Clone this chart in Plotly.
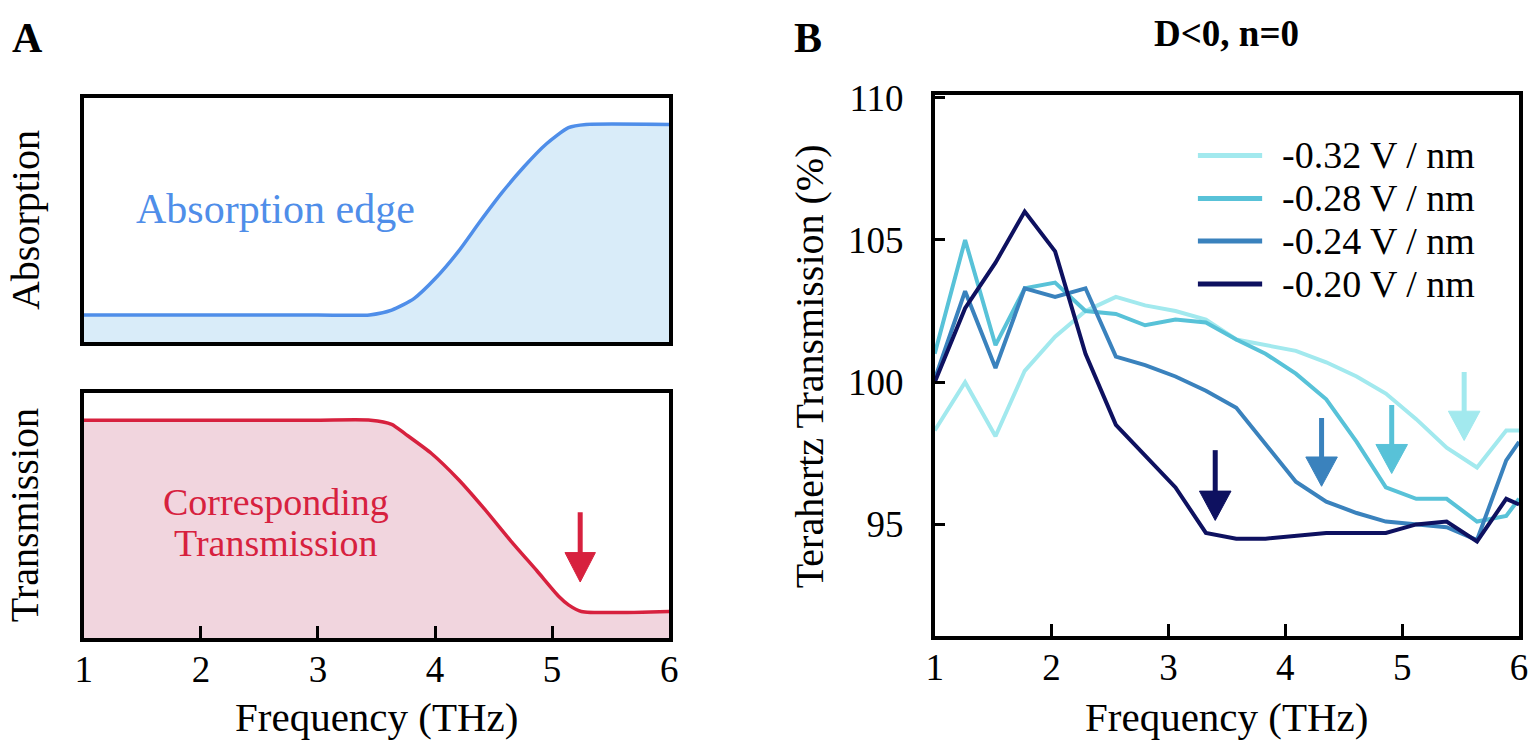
import plotly.graph_objects as go

W, H = 1536, 742
FONT = "Liberation Serif"

# ---------------- Panel A (schematic) ----------------
abs_freq = [1.0, 2.0, 3.0, 3.44, 3.63, 3.82, 4.01, 4.20, 4.38, 4.57, 4.76, 4.95, 5.14, 5.29, 6.0]
abs_val = [0.112, 0.112, 0.112, 0.112, 0.132, 0.179, 0.265, 0.372, 0.491, 0.611, 0.718, 0.811, 0.878, 0.891, 0.891]

trans_freq = [1.0, 2.0, 3.0, 3.45, 3.63, 3.745, 3.97, 4.20, 4.42, 4.65, 4.87, 5.06, 5.14, 5.25, 6.0]
trans_val = [0.89, 0.89, 0.89, 0.89, 0.873, 0.834, 0.754, 0.648, 0.529, 0.396, 0.276, 0.170, 0.137, 0.11, 0.11]

# ---------------- Panel B (measured) ----------------
freq = [1.0, 1.26, 1.52, 1.77, 2.03, 2.29, 2.55, 2.80, 3.06, 3.32, 3.58,
        3.83, 4.09, 4.35, 4.61, 4.86, 5.12, 5.38, 5.64, 5.89, 6.0]
series_names = ["-0.32 V / nm", "-0.28 V / nm", "-0.24 V / nm", "-0.20 V / nm"]
series_colors = ["#a2e9ee", "#58c2d8", "#3a82bd", "#0e1160"]
v_032 = [98.3, 100.0, 98.1, 100.4, 101.6, 102.5, 103.0, 102.7, 102.5, 102.2, 101.5,
         101.3, 101.1, 100.7, 100.2, 99.6, 98.7, 97.7, 97.0, 98.3, 98.3]
v_028 = [101.0, 105.0, 101.3, 103.3, 103.5, 102.5, 102.4, 102.0, 102.2, 102.1, 101.5,
         101.0, 100.3, 99.4, 97.9, 96.3, 95.9, 95.9, 95.1, 95.3, 95.9]
v_024 = [100.1, 103.2, 100.5, 103.3, 103.0, 103.3, 100.9, 100.6, 100.2, 99.7, 99.1,
         97.8, 96.5, 95.8, 95.4, 95.1, 95.0, 94.9, 94.45, 97.25, 97.9]
v_020 = [100.0, 102.6, 104.2, 106.0, 104.6, 101.0, 98.5, 97.4, 96.3, 94.7, 94.5,
         94.5, 94.6, 94.7, 94.7, 94.7, 95.0, 95.1, 94.4, 95.9, 95.7]
series_values = [v_032, v_028, v_024, v_020]

# arrow markers (frequency, shaft top, head base, tip) for panel B
arrow_freq = [5.53, 4.91, 4.31, 3.40]
arrow_top = [100.36, 99.2, 98.74, 97.61]
arrow_base = [98.98, 97.81, 97.37, 96.17]
arrow_tip = [97.95, 96.79, 96.34, 95.14]

x_ticks = [1, 2, 3, 4, 5, 6]
y_ticks_b = [95, 100, 105, 110]

ABS_LINE = "#4f8ee9"
ABS_FILL = "#d9ecf9"
TR_LINE = "#d7213e"
TR_FILL = "#f1d5de"

fig = go.Figure()

fig.add_trace(go.Scatter(
    x=abs_freq, y=abs_val, mode="lines", xaxis="x", yaxis="y",
    line=dict(color=ABS_LINE, width=3.5, shape="spline", smoothing=0.6),
    fill="tozeroy", fillcolor=ABS_FILL, showlegend=False, hoverinfo="skip"))
fig.add_trace(go.Scatter(
    x=trans_freq, y=trans_val, mode="lines", xaxis="x2", yaxis="y2",
    line=dict(color=TR_LINE, width=3.5, shape="spline", smoothing=0.6),
    fill="tozeroy", fillcolor=TR_FILL, showlegend=False, hoverinfo="skip"))

for name, col, vals in zip(series_names, series_colors, series_values):
    fig.add_trace(go.Scatter(
        x=freq, y=vals, mode="lines", name=name, xaxis="x3", yaxis="y3",
        line=dict(color=col, width=4), showlegend=False))

# ---------- axes ----------
def box_axis(**kw):
    d = dict(showline=True, mirror=True, linecolor="black", linewidth=3.5,
             showgrid=False, zeroline=False, ticks="", showticklabels=False,
             fixedrange=True)
    d.update(kw)
    return d

tickfont = dict(family=FONT, size=37, color="black")

xA = [75.7 / W, 668 / W]
xB = [936.7 / W, 1528 / W]

fig.update_layout(
    width=W, height=H, margin=dict(l=0, r=0, t=0, b=0),
    paper_bgcolor="white", plot_bgcolor="white",
    font=dict(family=FONT, color="black"),
    xaxis=box_axis(domain=xA, range=[1, 6], anchor="y"),
    yaxis=box_axis(domain=[1 - 333 / H, 1 - 82.7 / H], range=[0, 1], anchor="x"),
    xaxis2=box_axis(domain=xA, range=[1, 6], anchor="y2", ticks="inside",
                    tickvals=x_ticks, ticklen=13, tickwidth=3, tickcolor="black",
                    showticklabels=True, tickfont=tickfont, ticklabelstandoff=-5),
    yaxis2=box_axis(domain=[1 - 636 / H, 1 - 385 / H], range=[0, 1], anchor="x2"),
    xaxis3=box_axis(domain=xB, range=[1, 6], anchor="y3", ticks="inside",
                    tickvals=x_ticks, ticklen=13, tickwidth=3, tickcolor="black",
                    showticklabels=True, tickfont=tickfont, ticklabelstandoff=-5),
    yaxis3=box_axis(domain=[1 - 634 / H, 1 - 80 / H], range=[91.06, 110.09], anchor="x3",
                    ticks="inside", tickvals=y_ticks_b, ticklen=11, tickwidth=3,
                    tickcolor="black", showticklabels=True, tickfont=tickfont,
                    ticklabelstandoff=20),
)

shapes = []
# red arrow in panel A
shapes.append(dict(type="line", xref="x2", yref="y2", x0=5.24, x1=5.24, y0=0.515, y1=0.33,
                   line=dict(color=TR_LINE, width=5)))
shapes.append(dict(type="path", xref="x2", yref="y2",
                   path="M 5.11,0.35 L 5.37,0.35 L 5.24,0.23 Z",
                   fillcolor=TR_LINE, line=dict(color=TR_LINE, width=1)))
# coloured arrows in panel B
for f, top, base, tip, col in zip(arrow_freq, arrow_top, arrow_base, arrow_tip, series_colors):
    shapes.append(dict(type="line", xref="x3", yref="y3", x0=f, x1=f, y0=top, y1=base - 0.2,
                       line=dict(color=col, width=5)))
    shapes.append(dict(type="path", xref="x3", yref="y3",
                       path=f"M {f-0.135},{base} L {f+0.135},{base} L {f},{tip} Z",
                       fillcolor=col, line=dict(color=col, width=1)))

# legend (manual, to match spacing)
leg_y = [141.7, 185.7, 229.3, 273.3]
annotations = []
for yy, col, name in zip(leg_y, series_colors, series_names):
    shapes.append(dict(type="line", xref="paper", yref="paper",
                       x0=1203 / W, x1=1268 / W, y0=1 - yy / H, y1=1 - yy / H,
                       line=dict(color=col, width=5)))
    annotations.append(dict(xref="paper", yref="paper", x=1286 / W, y=1 - yy / H,
                            text=name, showarrow=False, xanchor="left", yanchor="middle",
                            font=dict(family=FONT, size=38, color="black")))

def ann(x, y, text, size, color="black", angle=0, bold=False, xanchor="center"):
    t = f"<b>{text}</b>" if bold else text
    annotations.append(dict(xref="paper", yref="paper", x=x / W, y=1 - y / H, text=t,
                            showarrow=False, xanchor=xanchor, yanchor="middle",
                            textangle=angle,
                            font=dict(family=FONT, size=size, color=color)))

ann(19, 21, "A", 42, bold=True)
ann(808, 21, "B", 42, bold=True)
ann(1232, 17, "D&lt;0, n=0", 37, bold=True)
ann(16, 208, "Absorption", 40, angle=-90)
ann(16, 510, "Transmission", 40, angle=-90)
ann(372, 716, "Frequency (THz)", 41)
ann(1232, 716, "Frequency (THz)", 41)
ann(810, 358, "Terahertz Transmission (%)", 40, angle=-90)
ann(270, 197, "Absorption edge", 42, color=ABS_LINE)
ann(270, 496, "Corresponding", 38, color=TR_LINE)
ann(270, 538, "Transmission", 38, color=TR_LINE)

fig.update_layout(shapes=shapes, annotations=annotations)

fig.write_html(
    "out.html",
    config={"displayModeBar": False},
    post_script="document.body.style.margin='0px'; document.documentElement.style.margin='0px';",
)
